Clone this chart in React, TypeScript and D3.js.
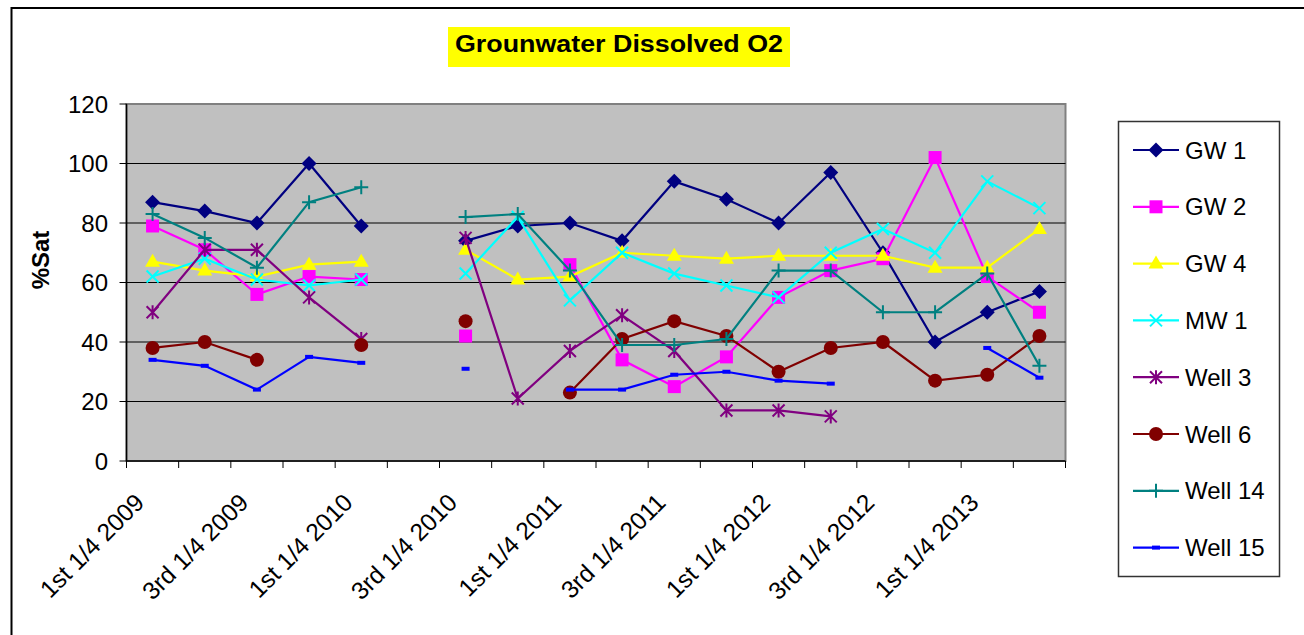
import React, { useRef, useEffect } from "react";
import * as d3 from "d3";

const categories = [
  "1st 1/4 2009", "2nd 1/4 2009", "3rd 1/4 2009", "4th 1/4 2009",
  "1st 1/4 2010", "2nd 1/4 2010", "3rd 1/4 2010", "4th 1/4 2010",
  "1st 1/4 2011", "2nd 1/4 2011", "3rd 1/4 2011", "4th 1/4 2011",
  "1st 1/4 2012", "2nd 1/4 2012", "3rd 1/4 2012", "4th 1/4 2012",
  "1st 1/4 2013", "2nd 1/4 2013",
];

const gw1 = [87, 84, 80, 100, 79, null, 74, 79, 80, 74, 94, 88, 80, 97, 70, 40, 50, 57];
const gw2 = [79, 71, 56, 62, 61, null, 42, null, 66, 34, 25, 35, 55, 64, 68, 102, 62, 50];
const gw4 = [67, 64, 62, 66, 67, null, 71, 61, 62, 70, 69, 68, 69, 69, 69, 65, 65, 78];
const mw1 = [62, 68, 61, 59, 61, null, 63, 82, 54, 70, 63, 59, 55, 70, 78, 70, 94, 85];
const well3 = [50, 71, 71, 55, 41, null, 75, 21, 37, 49, 37, 17, 17, 15, null, null, null, null];
const well6 = [38, 40, 34, null, 39, null, 47, null, 23, 41, 47, 42, 30, 38, 40, 27, 29, 42];
const well14 = [83, 75, 65, 87, 92, null, 82, 83, 64, 39, 39, 41, 64, 64, 50, 50, 63, 32];
const well15 = [34, 32, 24, 35, 33, null, 31, null, 24, 24, 29, 30, 27, 26, null, null, 38, 28];

const yTicks = [0, 20, 40, 60, 80, 100, 120];

const series = [
  { name: "GW 1", values: gw1, color: "#000080", marker: "diamond" },
  { name: "GW 2", values: gw2, color: "#FF00FF", marker: "square" },
  { name: "GW 4", values: gw4, color: "#FFFF00", marker: "triangle" },
  { name: "MW 1", values: mw1, color: "#00FFFF", marker: "x" },
  { name: "Well 3", values: well3, color: "#800080", marker: "star" },
  { name: "Well 6", values: well6, color: "#800000", marker: "circle" },
  { name: "Well 14", values: well14, color: "#008080", marker: "plus" },
  { name: "Well 15", values: well15, color: "#0000FF", marker: "dash" },
];

const FONT = "'Liberation Sans', Arial, sans-serif";

function drawMarker(g: any, type: string, cx: number, cy: number, color: string) {
  if (type === "diamond") {
    const r = 7.5;
    g.append("path")
      .attr("d", `M${cx},${cy - r}L${cx + r},${cy}L${cx},${cy + r}L${cx - r},${cy}Z`)
      .attr("fill", color);
  } else if (type === "square") {
    g.append("rect")
      .attr("x", cx - 6.5).attr("y", cy - 6.5)
      .attr("width", 13).attr("height", 13)
      .attr("fill", color);
  } else if (type === "triangle") {
    g.append("path")
      .attr("d", `M${cx},${cy - 8}L${cx + 7.5},${cy + 5}L${cx - 7.5},${cy + 5}Z`)
      .attr("fill", color);
  } else if (type === "circle") {
    g.append("circle").attr("cx", cx).attr("cy", cy).attr("r", 7).attr("fill", color);
  } else if (type === "dash") {
    g.append("rect")
      .attr("x", cx - 4).attr("y", cy - 2)
      .attr("width", 8).attr("height", 4)
      .attr("fill", color);
  } else {
    const s = 6;
    let d = "";
    if (type === "x" || type === "star") {
      d += `M${cx - s},${cy - s}L${cx + s},${cy + s}M${cx - s},${cy + s}L${cx + s},${cy - s}`;
    }
    if (type === "star") d += `M${cx},${cy - s - 1}L${cx},${cy + s + 1}`;
    if (type === "plus") {
      d += `M${cx - s - 1},${cy}L${cx + s + 1},${cy}M${cx},${cy - s - 1}L${cx},${cy + s + 1}`;
    }
    g.append("path").attr("d", d).attr("stroke", color).attr("stroke-width", 2).attr("fill", "none");
  }
}

const App = () => {
  const svgRef = useRef<SVGSVGElement>(null);

  useEffect(() => {
    if (!svgRef.current) return;
    const svg = d3.select(svgRef.current);
    svg.selectAll("*").remove();

    const left = 126.5, right = 1065.5, top = 104, bottom = 461;

    const x = d3.scaleBand().domain(categories).range([left, right]);
    const y = d3.scaleLinear().domain([0, 120]).range([bottom, top]);
    const cx = (c: string) => (x(c) as number) + x.bandwidth() / 2;

    // outer chart frame (only top & left edges visible)
    svg.append("rect")
      .attr("x", 11.5).attr("y", 8)
      .attr("width", 1400).attr("height", 700)
      .attr("fill", "#fff").attr("stroke", "#000").attr("stroke-width", 2);

    // title
    svg.append("rect")
      .attr("x", 448).attr("y", 27).attr("width", 342).attr("height", 40)
      .attr("fill", "#FFFF00");
    svg.append("text")
      .attr("x", 619).attr("y", 52)
      .attr("text-anchor", "middle")
      .attr("font-family", FONT).attr("font-weight", "bold").attr("font-size", "23px")
      .attr("textLength", 328).attr("lengthAdjust", "spacingAndGlyphs")
      .text("Grounwater Dissolved O2");

    // plot area
    svg.append("rect")
      .attr("x", left).attr("y", top)
      .attr("width", right - left).attr("height", bottom - top)
      .attr("fill", "#C0C0C0").attr("stroke", "#808080").attr("stroke-width", 2);

    svg.append("g")
      .selectAll("line")
      .data(yTicks.filter((t) => t > 0 && t < 120))
      .enter()
      .append("line")
      .attr("x1", left).attr("x2", right)
      .attr("y1", (d) => y(d)).attr("y2", (d) => y(d))
      .attr("stroke", "#000").attr("stroke-width", 1);

    // y axis
    const yAxis = svg.append("g");
    yAxis.append("line")
      .attr("x1", left).attr("x2", left).attr("y1", top).attr("y2", bottom)
      .attr("stroke", "#000").attr("stroke-width", 1.5);
    yTicks.forEach((t) => {
      yAxis.append("line")
        .attr("x1", left - 7).attr("x2", left).attr("y1", y(t)).attr("y2", y(t))
        .attr("stroke", "#000");
      yAxis.append("text")
        .attr("x", 108).attr("y", y(t))
        .attr("text-anchor", "end").attr("dominant-baseline", "central")
        .attr("font-family", FONT).attr("font-size", "24px")
        .text(t);
    });
    svg.append("text")
      .attr("transform", `translate(49,260) rotate(-90)`)
      .attr("text-anchor", "middle")
      .attr("font-family", FONT).attr("font-weight", "bold").attr("font-size", "24px")
      .text("%Sat");

    // x axis
    const xAxis = svg.append("g");
    xAxis.append("line")
      .attr("x1", left).attr("x2", right).attr("y1", bottom).attr("y2", bottom)
      .attr("stroke", "#000").attr("stroke-width", 1.5);
    categories.concat([""]).forEach((c, i) => {
      const tx = left + i * x.step();
      xAxis.append("line")
        .attr("x1", tx).attr("x2", tx).attr("y1", bottom).attr("y2", bottom + 7)
        .attr("stroke", "#000");
    });
    categories.forEach((c, i) => {
      if (i % 2 !== 0) return;
      xAxis.append("text")
        .attr("transform", `translate(${cx(c) - 7},${bottom + 43}) rotate(-45)`)
        .attr("text-anchor", "end")
        .attr("font-family", FONT).attr("font-size", "24.5px")
        .text(c);
    });

    // series
    const line = d3.line<any>()
      .defined((d) => d.v != null)
      .x((d) => cx(d.c))
      .y((d) => y(d.v));

    series.forEach((s) => {
      const pts = s.values.map((v, i) => ({ c: categories[i], v }));
      const g = svg.append("g");
      g.append("path")
        .attr("d", line(pts))
        .attr("fill", "none")
        .attr("stroke", s.color)
        .attr("stroke-width", 2.2);
      pts.forEach((p) => {
        if (p.v == null) return;
        drawMarker(g, s.marker, cx(p.c), y(p.v), s.color);
      });
    });

    // legend
    const legend = svg.append("g");
    legend.append("rect")
      .attr("x", 1118.5).attr("y", 121.5).attr("width", 161).attr("height", 455)
      .attr("fill", "#fff").attr("stroke", "#333").attr("stroke-width", 1.5);
    series.forEach((s, i) => {
      const ly = 150 + i * 56.8;
      legend.append("line")
        .attr("x1", 1133).attr("x2", 1179).attr("y1", ly).attr("y2", ly)
        .attr("stroke", s.color).attr("stroke-width", 2.2);
      drawMarker(legend, s.marker, 1156, ly, s.color);
      legend.append("text")
        .attr("x", 1185).attr("y", ly)
        .attr("dominant-baseline", "central")
        .attr("font-family", FONT).attr("font-size", "24px")
        .text(s.name);
    });
  }, []);

  return (
    <svg
      ref={svgRef}
      width={1304}
      height={635}
      style={{ position: "absolute", left: 0, top: 0, background: "#fff" }}
    />
  );
};

export default App;
